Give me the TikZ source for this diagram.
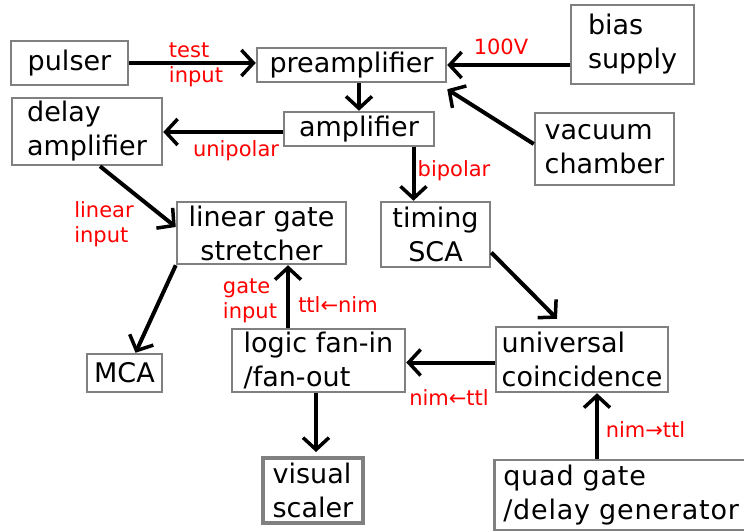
\documentclass[tikz,border=0pt]{standalone}
\usepackage{fontspec}
\setmainfont{DejaVu Sans}
\usetikzlibrary{arrows.meta}
\definecolor{boxgray}{RGB}{128,128,128}
\begin{document}
\begin{tikzpicture}[x=1bp,y=-1bp,
  box/.style={draw=boxgray, line width=2.5bp, inner sep=0pt,
    font=\fontsize{27bp}{34bp}\selectfont, align=left},
  lbl/.style={text=red, inner sep=0pt,
    font=\fontsize{21bp}{25bp}\selectfont, align=left},
  flow/.style={line width=4bp,
    -{Straight Barb[length=12bp,width=26bp,line width=3.5bp]}},
]
\useasboundingbox (0,0) rectangle (744,532);

% modules
\node[box, minimum width=117bp, minimum height=44bp] (pulser) at (69.5,63) {pulser};
\node[box, minimum width=189bp, minimum height=34bp] (preamp) at (351.5,65) {preamplifier};
\node[box, minimum width=123bp, minimum height=79bp] (bias) at (632.5,44.5) {bias\\supply};
\node[box, minimum width=139bp, minimum height=72bp] (vacuum) at (604.5,149) {vacuum\\chamber};
\node[box, minimum width=150bp, minimum height=67bp] (delay) at (87,131.5) {delay\\amplifier};
\node[box, minimum width=150bp, minimum height=34bp] (amp) at (359,129) {amplifier};
\node[box, align=center, minimum width=169bp, minimum height=62bp] (linear) at (261.5,233) {linear gate\\stretcher};
\node[box, align=center, minimum width=109bp, minimum height=65bp] (timing) at (435.5,234.5) {timing\\SCA};
\node[box, minimum width=75bp, minimum height=38bp] (mca) at (124.5,373) {MCA};
\node[box, minimum width=173bp, minimum height=63bp] (logic) at (318.5,360.5) {logic fan-in\\/fan-out};
\node[box, minimum width=172bp, minimum height=65bp] (univ) at (582,359.5) {universal\\coincidence};
\node[box, line width=4bp, minimum width=100bp, minimum height=65bp] (visual) at (313,490.5) {visual\\scaler};
\node[box, anchor=west, inner xsep=9bp, text width=255bp, minimum height=70bp] (quad) at (493,495)
  {\addfontfeature{LetterSpace=3}quad gate\\/delay generator};

% signal connections
\coordinate (tsin) at ([xshift=-22bp]timing.north);
\coordinate (gin) at ([xshift=26.5bp]linear.south);
\coordinate (qout) at (univ.south -| 597,0);

\draw[flow] (pulser.east) -- (pulser.east -| preamp.west);
\draw[flow] (bias.west |- preamp.east) -- (preamp.east);
\draw[flow] ([yshift=5bp]vacuum.west) -- ([yshift=-6bp]preamp.south east);
\draw[flow] (preamp.south -| amp.north) -- (amp.north);
\draw[flow] ([yshift=-3bp]amp.west) -- ([yshift=-3bp]amp.west -| delay.east);
\draw[flow] (amp.south -| tsin) -- (tsin);
\draw[flow] ([xshift=13bp]delay.south) -- ([yshift=6bp]linear.west);
\draw[flow] (linear.south west) -- ([xshift=11bp]mca.north);
\draw[flow] (logic.north -| gin) -- (gin);
\draw[flow] ([yshift=-18bp]timing.east) -- ([xshift=-25bp,yshift=7bp]univ.north);
\draw[flow] ([yshift=-3bp]univ.west) -- ([yshift=-3bp]univ.west -| logic.east);
\draw[flow] (quad.north -| qout) -- (qout);
\draw[flow] ([xshift=3bp]logic.south -| visual.north) -- ([xshift=3bp,yshift=4bp]visual.north);

% signal labels
\node[lbl] (ltest) at (196,64.5) {test\\input};
\node[lbl] (lbias) at (501,46.5) {100V};
\node[lbl] (luni) at (236,151) {unipolar};
\node[lbl] (lbi) at (454,171) {bipolar};
\node[lbl] (llin) at (104,224.5) {linear\\input};
\node[lbl] (lgate) at (250,300.5) {gate\\input};
\node[lbl] (lttl) at (338,305) {ttl←nim};
\node[lbl] (lnim) at (449,397.5) {nim←ttl};
\node[lbl] (lquad) at (645.5,430) {nim→ttl};
\end{tikzpicture}
\end{document}
